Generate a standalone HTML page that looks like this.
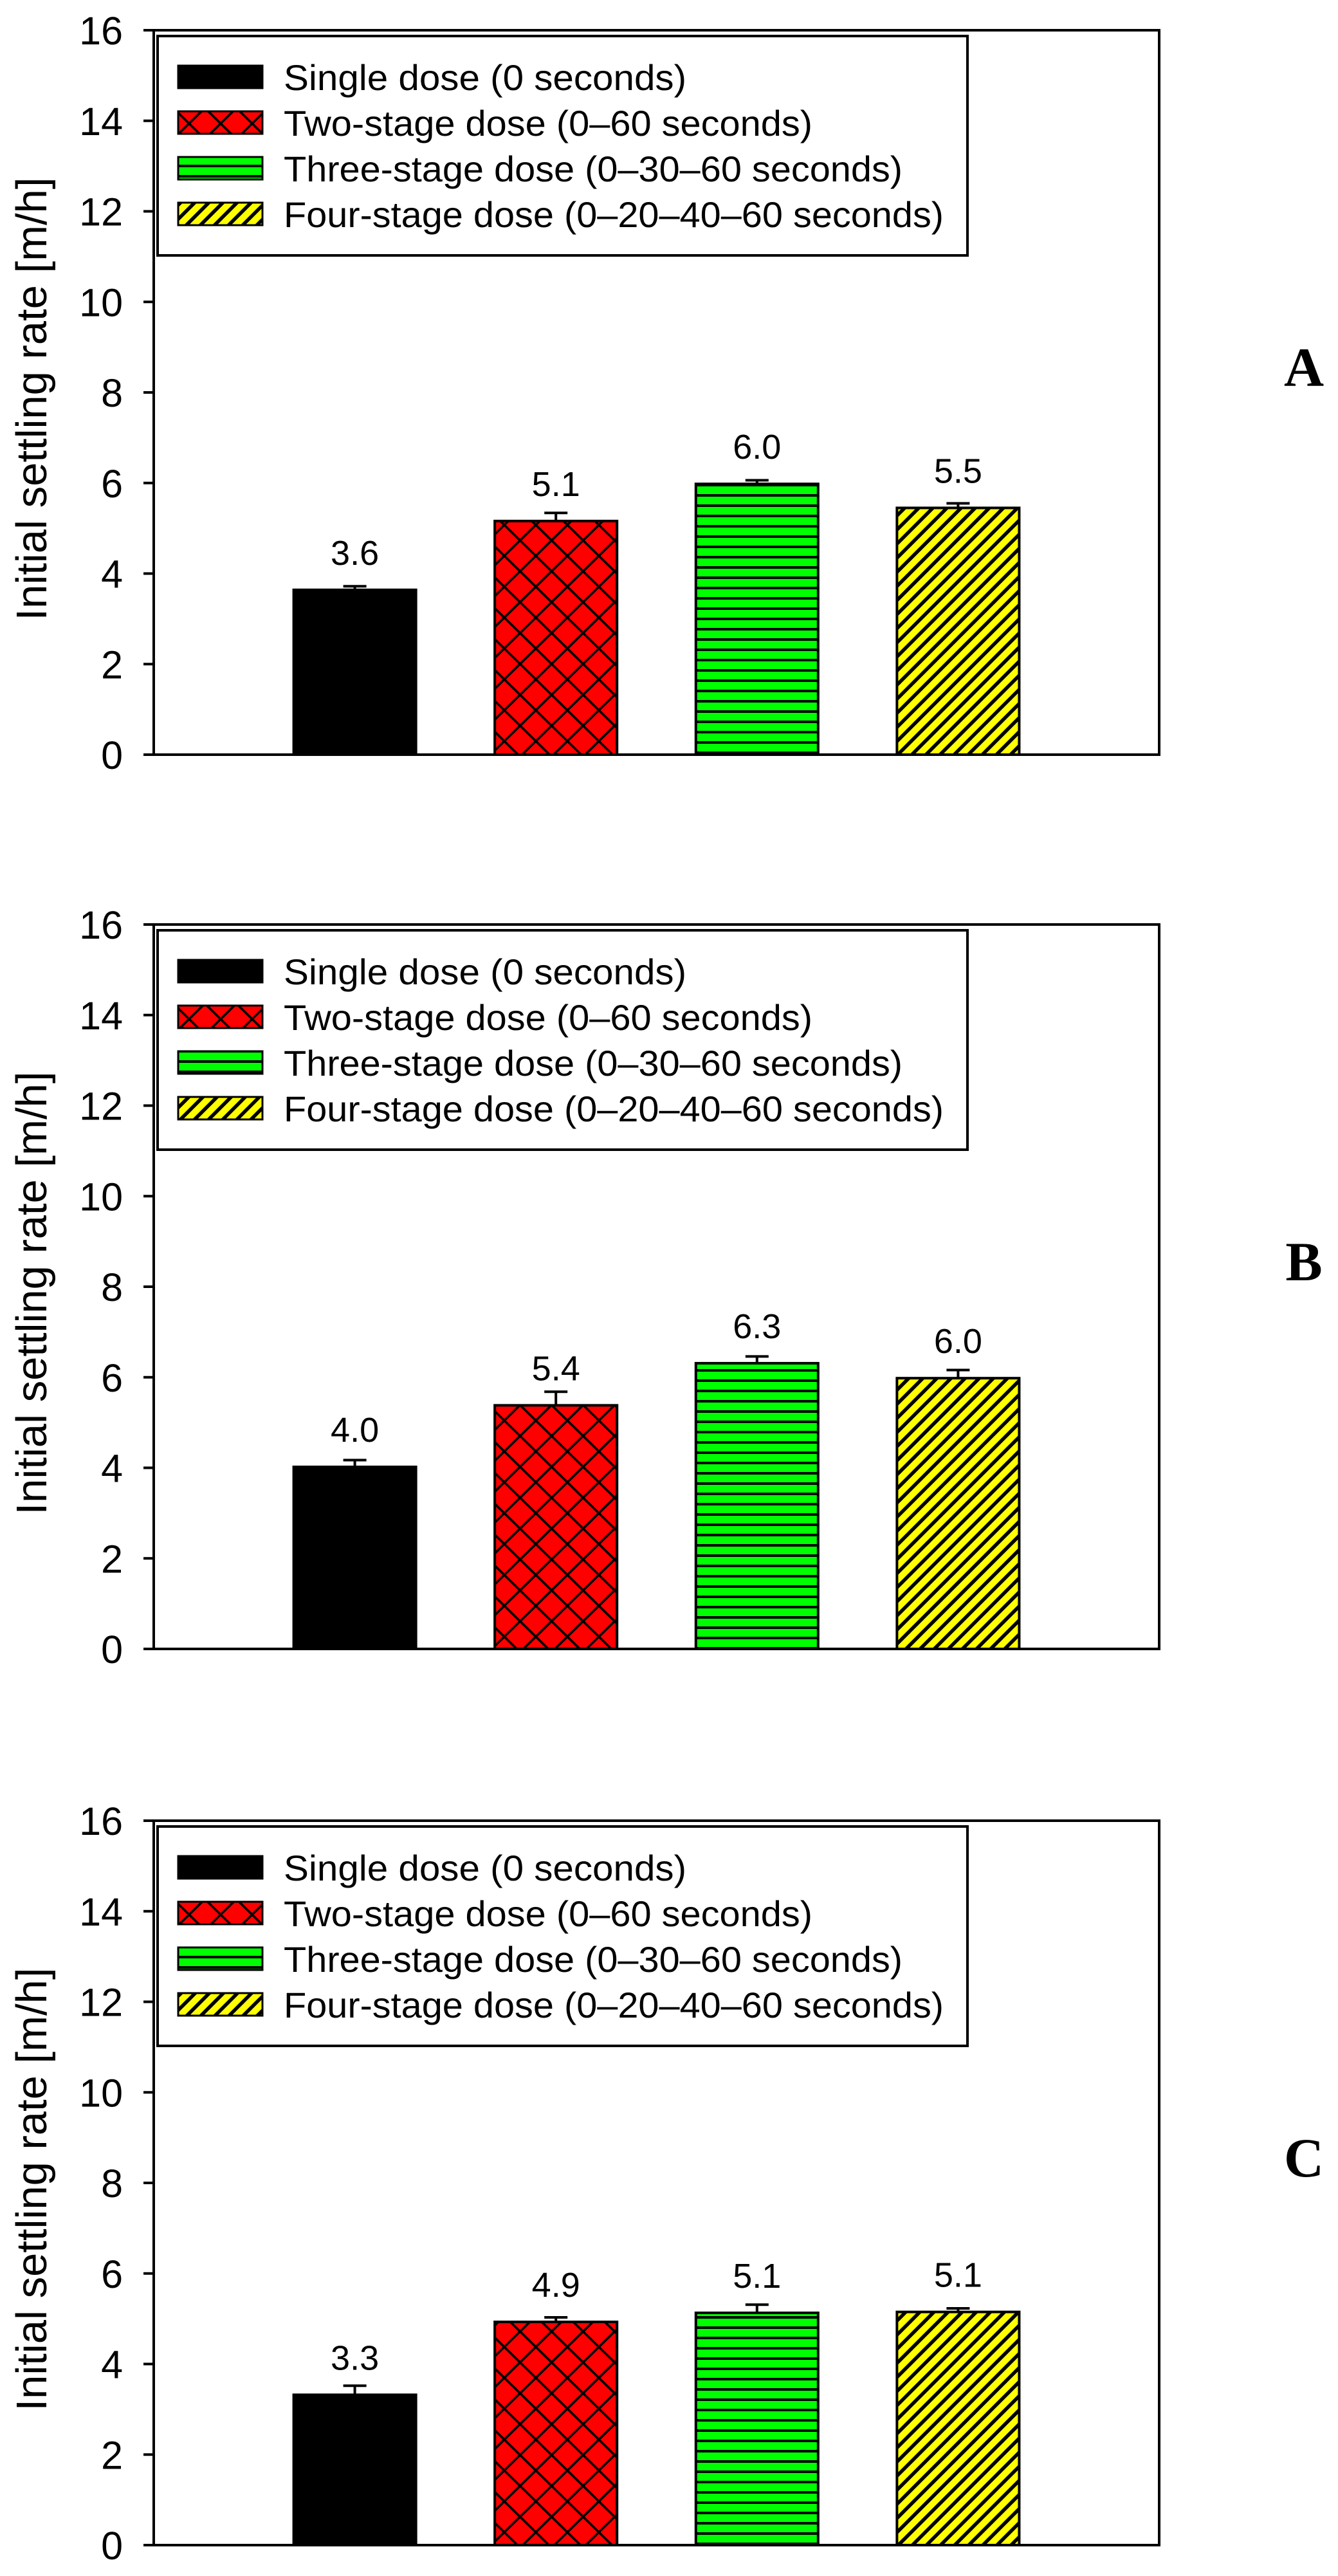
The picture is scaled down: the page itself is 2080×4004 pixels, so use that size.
<!DOCTYPE html>
<html><head><meta charset="utf-8"><style>
html,body{margin:0;padding:0;background:#fff;}
svg{display:block;}
text{font-family:"Liberation Sans",Arial,sans-serif;fill:#000;}
</style></head><body>
<svg id="fig" width="2080" height="4004" viewBox="0 0 2080 4004" xmlns="http://www.w3.org/2000/svg">
<defs>
<pattern id="pat-cross" patternUnits="userSpaceOnUse" width="49" height="48" x="0" y="0">
<rect width="49" height="48" fill="#ff0000"/>
<path d="M0,0 L49,48 M49,0 L0,48 M-5,43 L5,53 M44,-5 L54,5 M-5,5 L5,-5 M44,53 L54,43" stroke="#000" stroke-width="3.5"/>
</pattern>
<pattern id="pat-horiz" patternUnits="userSpaceOnUse" width="20" height="16">
<rect width="20" height="16" fill="#00ff00"/>
<rect y="0" width="20" height="4" fill="#000"/>
</pattern>
<pattern id="pat-diag" patternUnits="userSpaceOnUse" width="15.5" height="15.5" patternTransform="rotate(45)">
<rect width="15.5" height="15.5" fill="#ffff00"/>
<rect x="0" width="5.5" height="15.5" fill="#000"/>
</pattern>
</defs>
<g id="panels"></g>
</svg>
<script>
const categories = ["Single dose (0 seconds)", "Two-stage dose (0\u201360 seconds)", "Three-stage dose (0\u201330\u201360 seconds)", "Four-stage dose (0\u201320\u201340\u201360 seconds)"];
const panelLetters = ["A", "B", "C"];
const valuesA = [3.64, 5.16, 5.98, 5.45];
const valuesB = [4.02, 5.38, 6.31, 5.98];
const valuesC = [3.32, 4.93, 5.13, 5.15];
const errorsA = [0.08, 0.18, 0.08, 0.10];
const errorsB = [0.15, 0.30, 0.15, 0.18];
const errorsC = [0.20, 0.10, 0.18, 0.08];
const labelsA = ["3.6", "5.1", "6.0", "5.5"];
const labelsB = ["4.0", "5.4", "6.3", "6.0"];
const labelsC = ["3.3", "4.9", "5.1", "5.1"];
const yTicks = [0, 2, 4, 6, 8, 10, 12, 14, 16];

const NS = "http://www.w3.org/2000/svg";
const fills = ["#000000", "url(#pat-cross)", "url(#pat-horiz)", "url(#pat-diag)"];
const panelsData = [
  {values: valuesA, errors: errorsA, labels: labelsA},
  {values: valuesB, errors: errorsB, labels: labelsB},
  {values: valuesC, errors: errorsC, labels: labelsC}
];
const panelTops = [47, 1437, 2830];
const X0 = 239, X1 = 1802, PH = 1126, YMAX = 16;

function mk(tag, attrs, parent) {
  const e = document.createElementNS(NS, tag);
  for (const k in attrs) e.setAttribute(k, attrs[k]);
  parent.appendChild(e);
  return e;
}

const root = document.getElementById("panels");
panelsData.forEach((pd, pi) => {
  const top = panelTops[pi];
  const bottom = top + PH;
  const yS = v => bottom - v / YMAX * PH;
  const slot = (X1 - X0) / (categories.length + 1);
  const xC = i => X0 + slot * (i + 1);
  const bw = slot * 0.608;

  const g = mk("g", {}, root);
  
  

  // bars
  pd.values.forEach((v, i) => {
    const bar = mk("rect", {x: xC(i) - bw / 2, y: yS(v), width: bw, height: yS(0) - yS(v), fill: fills[i], stroke: "#000", "stroke-width": 4}, g);
    
    
    const et = yS(v + pd.errors[i]);
    const eb = mk("path", {d: `M${xC(i)},${yS(v)} L${xC(i)},${et} M${xC(i) - 18},${et} L${xC(i) + 18},${et}`, stroke: "#000", "stroke-width": 4, fill: "none"}, g);
    
    
    const lt = mk("text", {x: xC(i), y: yS(v) - 39, "font-size": 54, "text-anchor": "middle"}, g);
    lt.textContent = pd.labels[i];
    
    
  });

  // axes frame
  const frame = mk("path", {d: `M${X0},${top} L${X1},${top} L${X1},${bottom} L${X0},${bottom} Z`, stroke: "#000", "stroke-width": 4, fill: "none"}, g);
  
  

  yTicks.forEach(t => {
    const tk = mk("line", {x1: X0 - 16, x2: X0, y1: yS(t), y2: yS(t), stroke: "#000", "stroke-width": 4}, g);
    
    
    const tl = mk("text", {x: 191, y: yS(t) + 22, "font-size": 61, "text-anchor": "end"}, g);
    tl.textContent = String(t);
    
    
  });

  const yt = mk("text", {x: 0, y: 0, "font-size": 67, "text-anchor": "middle", transform: `translate(72,${top + 573}) rotate(-90)`}, g);
  yt.textContent = "Initial settling rate [m/h]";
  
  

  // legend
  const lg = mk("g", {}, g);
  
  
  const lb = mk("rect", {x: 245, y: top + 9, width: 1259, height: 341, fill: "#fff", stroke: "#000", "stroke-width": 4}, lg);
  
  
  const lens = [626, 822, 962, 1026];
  categories.forEach((c, i) => {
    const sy = top + 55 + i * 71;
    const sw = mk("rect", {x: 277, y: sy, width: 131, height: 35, fill: fills[i], stroke: "#000", "stroke-width": 3}, lg);
    
    
    const tx = mk("text", {x: 441, y: sy + 38, "font-size": 56, textLength: lens[i], lengthAdjust: "spacingAndGlyphs"}, lg);
    tx.textContent = c;
    
    
  });

  const pl = mk("text", {x: 2027, y: top + 553, "font-size": 86, "font-weight": "bold", "text-anchor": "middle", style: "font-family:'Liberation Serif',serif"}, g);
  pl.textContent = panelLetters[pi];
  
  
});
</script>
</body></html>
